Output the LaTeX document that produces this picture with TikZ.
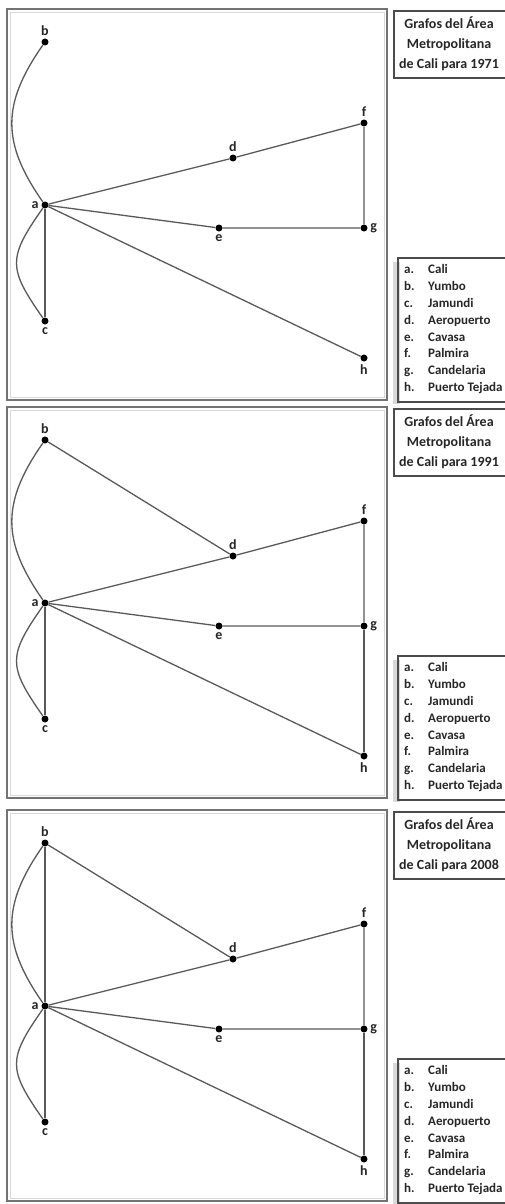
\documentclass[tikz,border=0pt]{standalone}
\usepackage{fontspec}
\setmainfont{Carlito}

\begin{document}
\begin{tikzpicture}[%
      x=1pt, y=-1pt,
      town/.style={circle, fill=black, inner sep=0pt, minimum size=7pt},
      road/.style={color=black!65, line width=1.3pt},
      frame/.style={color=black!55, line width=1.3pt},
      every label/.style={font=\fontsize{14}{14}\selectfont\bfseries, inner sep=1pt, text=black!85},
      label distance=1.5pt,
      ]
      \useasboundingbox (0,0) rectangle (505,1204);
      \clip (0,0) rectangle (505,1204);

      % one panel per year, same towns
      \foreach \p/\year/\off in {1/1971/0, 2/1991/398, 3/2008/801} {
      \begin{scope}[yshift=-\off pt]
      \draw [frame] (7,9) rectangle (387,400);
      \draw [frame, color=black!15, line width=0.8pt] (10,12) rectangle (384,397);
      \draw [frame, color=black!70] (394,11) rectangle (520,78);
      \fill [color=black!15] (393,262) rectangle (400,404);
      \draw [frame, color=black!70] (398,258) rectangle (520,402);

      \node [town, label=left:a]  (a\p) at (45,205) {};
      \node [town, label=above:b] (b\p) at (45,42) {};
      \node [town, label=below:c] (c\p) at (45,321) {};
      \node [town, label=above:d] (d\p) at (233,158) {};
      \node [town, label=below:e] (e\p) at (219,228) {};
      \node [town, label=above:f] (f\p) at (364,123) {};
      \node [town, label=right:g] (g\p) at (364,228) {};
      \node [town, label=below:h] (h\p) at (364,358) {};

      \draw [road] (a\p) to[out=125, in=-125, looseness=1.18] (b\p);
      \draw [road] (a\p) to[out=-125, in=125, looseness=1.43] (c\p);
      \draw [road] (a\p) -- (c\p);
      \draw [road] (a\p) -- (d\p) -- (f\p) -- (g\p);
      \draw [road] (a\p) -- (e\p) -- (g\p);
      \draw [road] (a\p) -- (h\p);

      \node [align=center, font=\fontsize{14}{20}\selectfont\bfseries, text=black!85]
        (title\p) at (449,44) {Grafos del Área\\Metropolitana\\de Cali para \year};
      \node [anchor=north west, inner sep=0pt, font=\fontsize{13}{16.8}\selectfont\bfseries, text=black!85]
        (legend\p) at (404,262) {%
        \begin{tabular}{@{}p{15pt}@{\hspace{9pt}}l@{}}
        a. & Cali\\ b. & Yumbo\\ c. & Jamundi\\ d. & Aeropuerto\\
        e. & Cavasa\\ f. & Palmira\\ g. & Candelaria\\ h. & Puerto Tejada
        \end{tabular}};
      \end{scope}
      }

      % roads added in 1991
      \draw [road] (b2) -- (d2);
      \draw [road] (g2) -- (h2);
      % roads added in 2008
      \draw [road] (b3) -- (d3);
      \draw [road] (g3) -- (h3);
      \draw [road] (b3) -- (a3);
\end{tikzpicture}
\end{document}
